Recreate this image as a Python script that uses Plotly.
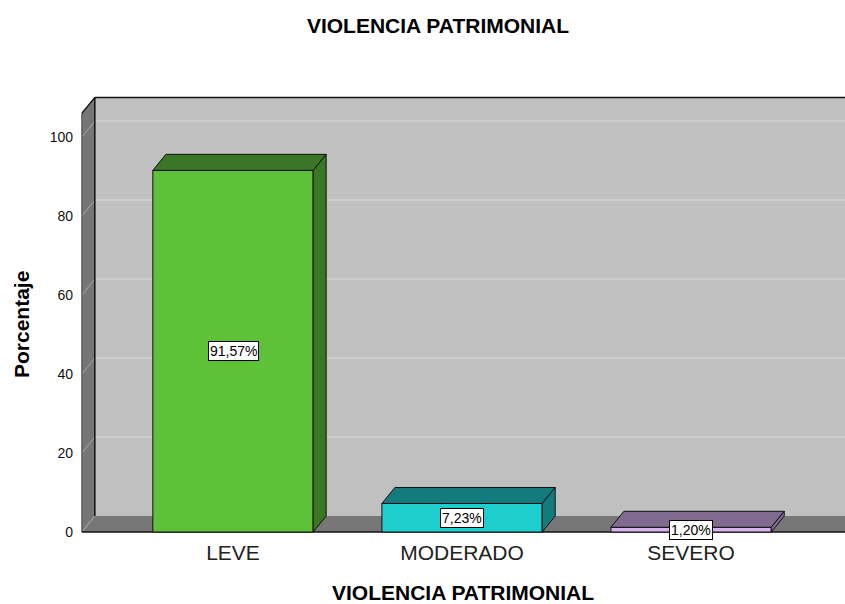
import plotly.graph_objects as go

# ---------------- data ----------------
categories = ["LEVE", "MODERADO", "SEVERO"]
percentages = [91.57, 7.23, 1.20]
front_colors = ["#5EC238", "#1ECECE", "#D9B2EC"]
shade_colors = ["#3A7625", "#137B7B", "#806A8F"]
y_tick_values = [0, 20, 40, 60, 80, 100]
title_text = "VIOLENCIA PATRIMONIAL"
x_title = "VIOLENCIA PATRIMONIAL"
y_title = "Porcentaje"

# ---------------- layout geometry ----------------
W, H = 845, 604
ML, MR, MT, MB = 80, 0, 96, 70
X_RANGE = [-0.668, 2.672]
Y_RANGE = [-0.5, 110.4]
WALL_LEFT = -0.66
WALL_TOP = 106
BAR_W = 0.70
DEPTH_PX = (13, 16)

plot_w = W - ML - MR
plot_h = H - MT - MB
px_x = plot_w / (X_RANGE[1] - X_RANGE[0])
px_y = plot_h / (Y_RANGE[1] - Y_RANGE[0])
dx = DEPTH_PX[0] / px_x
dy = DEPTH_PX[1] / px_y
XR = X_RANGE[1] + 1  # beyond right edge (clipped)

FONT = "Arial, Liberation Sans, Helvetica, sans-serif"


def paper_x(px):
    return (px - ML) / plot_w


def paper_y(py):
    return 1 - (py - MT) / plot_h


def poly(pts):
    return "M " + " L ".join(f"{x},{y}" for x, y in pts) + " Z"


shapes = []
# back wall
shapes.append(dict(type="path", layer="below", xref="x", yref="y",
                   path=poly([(WALL_LEFT + dx, dy), (XR, dy), (XR, WALL_TOP + dy), (WALL_LEFT + dx, WALL_TOP + dy)]),
                   fillcolor="#C0C0C0", line=dict(width=0)))
# floor
shapes.append(dict(type="path", layer="below", xref="x", yref="y",
                   path=poly([(WALL_LEFT, 0), (XR, 0), (XR + dx, dy), (WALL_LEFT + dx, dy)]),
                   fillcolor="#777777", line=dict(width=0)))
# side wall
shapes.append(dict(type="path", layer="below", xref="x", yref="y",
                   path=poly([(WALL_LEFT, 0), (WALL_LEFT, WALL_TOP), (WALL_LEFT + dx, WALL_TOP + dy), (WALL_LEFT + dx, dy)]),
                   fillcolor="#767676", line=dict(width=0)))
# gridlines on back wall and diagonals on side wall
for v in y_tick_values:
    if v > 0:
        shapes.append(dict(type="line", layer="below", xref="x", yref="y",
                           x0=WALL_LEFT + dx, x1=XR, y0=v + dy, y1=v + dy,
                           line=dict(color="#D0D0D0", width=1.5)))
    shapes.append(dict(type="line", layer="below", xref="x", yref="y",
                       x0=WALL_LEFT, x1=WALL_LEFT + dx, y0=v, y1=v + dy,
                       line=dict(color="#A8A8A8", width=1)))
# edges
edge = dict(color="#111111", width=1.5)
shapes += [
    dict(type="line", layer="below", xref="x", yref="y", x0=WALL_LEFT + dx, x1=WALL_LEFT + dx,
         y0=dy, y1=WALL_TOP + dy, line=edge),
    dict(type="line", layer="below", xref="x", yref="y", x0=WALL_LEFT + dx, x1=XR,
         y0=WALL_TOP + dy, y1=WALL_TOP + dy, line=edge),
    dict(type="line", layer="below", xref="x", yref="y", x0=WALL_LEFT, x1=WALL_LEFT + dx,
         y0=WALL_TOP, y1=WALL_TOP + dy, line=edge),
    dict(type="line", layer="below", xref="x", yref="y", x0=WALL_LEFT, x1=WALL_LEFT,
         y0=0, y1=WALL_TOP, line=dict(color="#444444", width=1)),
    dict(type="line", layer="below", xref="x", yref="y", x0=WALL_LEFT, x1=XR,
         y0=0, y1=0, line=edge),
]

# 3D faces of bars (top and right side)
for i, v in enumerate(percentages):
    xl, xr = i - BAR_W / 2, i + BAR_W / 2
    shapes.append(dict(type="path", layer="above", xref="x", yref="y",
                       path=poly([(xl, v), (xr, v), (xr + dx, v + dy), (xl + dx, v + dy)]),
                       fillcolor=shade_colors[i], line=dict(color="#111111", width=1)))
    shapes.append(dict(type="path", layer="above", xref="x", yref="y",
                       path=poly([(xr, 0), (xr, v), (xr + dx, v + dy), (xr + dx, dy)]),
                       fillcolor=shade_colors[i], line=dict(color="#111111", width=1)))

fig = go.Figure()
fig.add_trace(go.Bar(
    x=list(range(len(categories))), y=percentages, width=BAR_W,
    marker=dict(color=front_colors, line=dict(color="#111111", width=1)),
    hoverinfo="skip", showlegend=False,
))

annotations = []
for i, v in enumerate(percentages):
    annotations.append(dict(
        x=i, y=v / 2, xref="x", yref="y", showarrow=False,
        text=f"{v:.2f}".replace(".", ",") + "%",
        font=dict(family=FONT, size=14, color="#000000"),
        bgcolor="#FFFFFF", bordercolor="#000000", borderwidth=1, borderpad=1,
    ))
# axis titles
annotations.append(dict(
    x=0.5, y=paper_y(592), xref="paper", yref="paper",
    xanchor="center", yanchor="middle", showarrow=False,
    text=f"<b>{x_title}</b>", font=dict(family=FONT, size=21, color="#000000"),
))
annotations.append(dict(
    x=paper_x(21), y=paper_y(325), xref="paper", yref="paper",
    xanchor="center", yanchor="middle", showarrow=False, textangle=-90,
    text=f"<b>{y_title}</b>", font=dict(family=FONT, size=21, color="#000000"),
))

fig.update_layout(
    template="none",
    width=W, height=H,
    margin=dict(l=ML, r=MR, t=MT, b=MB, pad=0),
    paper_bgcolor="#FFFFFF", plot_bgcolor="rgba(0,0,0,0)",
    title=dict(text=f"<b>{title_text}</b>", x=438 / W, xanchor="center",
               y=1 - 26 / H, yanchor="middle",
               font=dict(family=FONT, size=21, color="#000000")),
    xaxis=dict(range=X_RANGE, tickvals=list(range(len(categories))), ticktext=categories,
               showgrid=False, zeroline=False, showline=False, ticks="",
               ticklabelstandoff=4,
               tickfont=dict(family=FONT, size=21, color="#222222"),
               automargin=False, fixedrange=True),
    yaxis=dict(range=Y_RANGE, tickvals=y_tick_values,
               showgrid=False, zeroline=False, showline=False, ticks="",
               ticklabelstandoff=6,
               tickfont=dict(family=FONT, size=14, color="#111111"),
               automargin=False, fixedrange=True),
    shapes=shapes,
    annotations=annotations,
    bargap=0.3,
)

fig.write_html("out.html", config={"displayModeBar": False},
               post_script="document.body.style.margin='0';")
